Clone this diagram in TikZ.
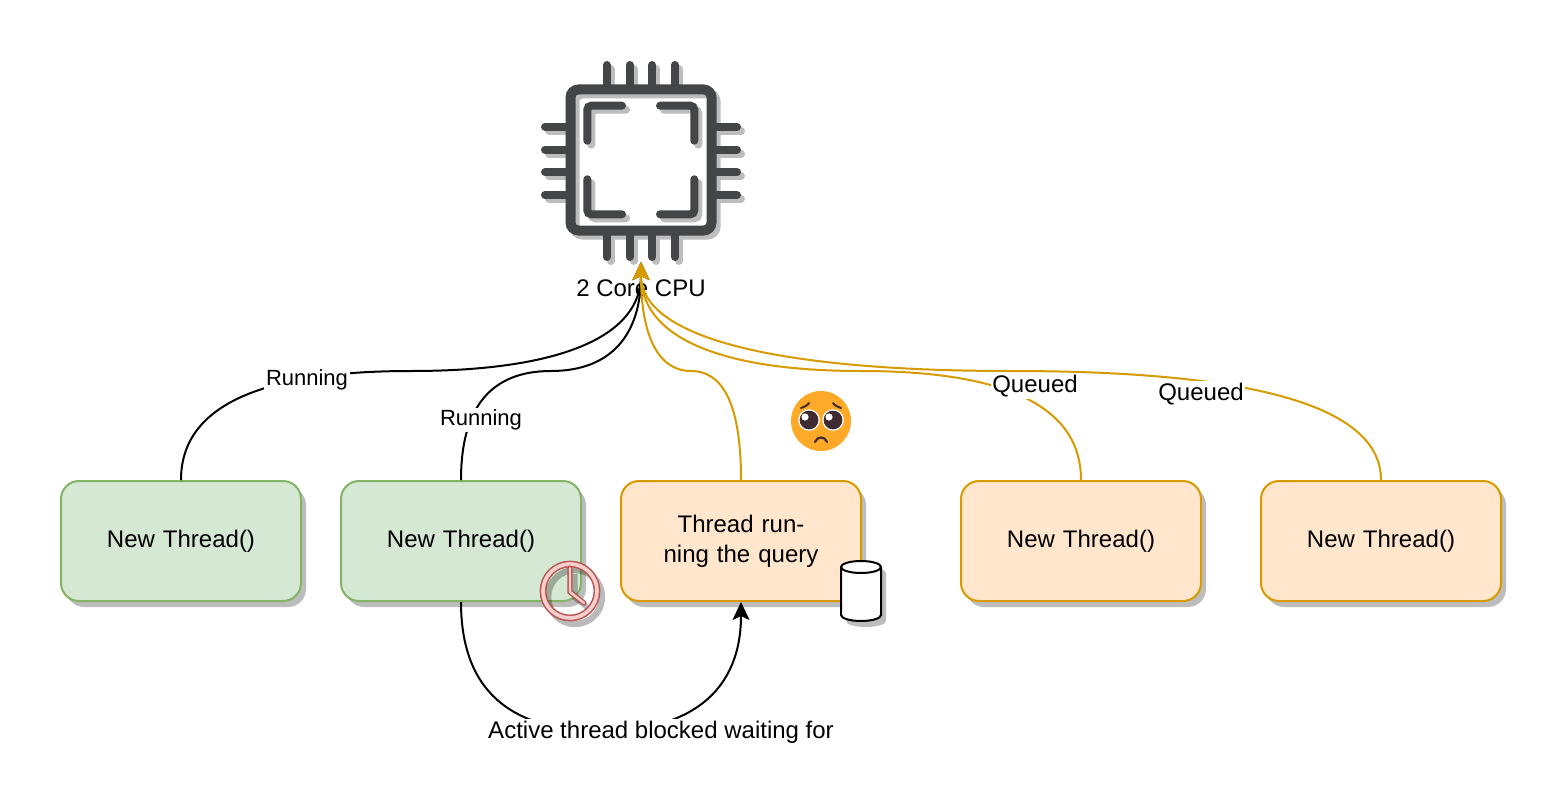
\documentclass[tikz,border=0pt]{standalone}
\usepackage{fontspec}
\setmainfont{Liberation Sans}
\usetikzlibrary{arrows.meta,calc,shadows}
\definecolor{cpudark}{HTML}{444546}
\definecolor{shadowgray}{HTML}{BDBDBD}
\definecolor{greenfill}{HTML}{D5E8D4}
\definecolor{greenline}{HTML}{82B366}
\definecolor{orangefill}{HTML}{FFE6CC}
\definecolor{orangeline}{HTML}{D79B00}
\definecolor{clockfill}{HTML}{F8CECC}
\definecolor{clockline}{HTML}{B85450}
\definecolor{facefill}{HTML}{FFA928}
\definecolor{facedark}{HTML}{402A32}
\tikzset{
  boxshadow/.style={general shadow={shadow xshift=2.5pt,shadow yshift=-3pt,fill=shadowgray}},
  threadbox/.style={draw,line width=1pt,rounded corners=9pt,minimum width=120pt,minimum height=60pt,
    text width=112pt,align=center,font=\fontsize{12}{15}\selectfont,boxshadow},
  runbox/.style={threadbox,draw=greenline,fill=greenfill},
  waitbox/.style={threadbox,draw=orangeline,fill=orangefill},
  edgelabel/.style={fill=white,inner sep=0.8pt,font=\fontsize{12}{14}\selectfont},
  edgeblack/.style={line width=1pt,-{Stealth[length=9pt,width=8.5pt,inset=2pt]}},
  edgeorange/.style={edgeblack,draw=orangeline},
  cpustroke/.style={line width=4pt,line cap=round,rounded corners=2pt}
}
\newcommand{\qedge}[4]{
  \draw[#1] (#2) .. controls ($(#2)!.667!(#2 |- #3)$) and ($(#3)!.667!(#2 |- #3)$) .. (#3)
    .. controls ($(#3)!.667!(#4 |- #3)$) and ($(#4)!.667!(#4 |- #3)$) .. (#4);
}
\begin{document}
\begin{tikzpicture}[x=0.5pt,y=-0.5pt]
  \useasboundingbox[fill=white] (0,0) rectangle (1568,808);

  \foreach \col/\off in {shadowgray/4,cpudark/0} {
    \begin{scope}[shift={(\off,\off)},draw=\col]
      \draw[draw=\col,line width=5pt,rounded corners=4pt] (570.5,89.5) rectangle (711.5,230.5);
      \foreach \p in {606.7,629.5,652.3,675} {
        \draw[draw=\col,cpustroke] (\p,65) -- (\p,85);
        \draw[draw=\col,cpustroke] (\p,235) -- (\p,257);
      }
      \foreach \p in {126.7,149.5,172.3,195} {
        \draw[draw=\col,cpustroke] (545,\p) -- (566,\p);
        \draw[draw=\col,cpustroke] (716,\p) -- (737,\p);
      }
      \draw[draw=\col,cpustroke] (622,105.7) -- (587.3,105.7) -- (587.3,140.7);
      \draw[draw=\col,cpustroke] (660,105.7) -- (694.3,105.7) -- (694.3,140.7);
      \draw[draw=\col,cpustroke] (622,214.3) -- (587.3,214.3) -- (587.3,179.3);
      \draw[draw=\col,cpustroke] (660,214.3) -- (694.3,214.3) -- (694.3,179.3);
    \end{scope}
  }

  \node[font=\fontsize{12}{14}\selectfont] (cpulabel) at (641,288) {2 Core CPU};
  \coordinate (cpu) at (641,262);

  \node[runbox] (t1) at (181,541) {New Thread()};
  \node[runbox] (t2) at (461,541) {New Thread()};
  \node[waitbox] (t3) at (741,541) {Thread running the query};
  \node[waitbox] (t4) at (1081,541) {New Thread()};
  \node[waitbox] (t5) at (1381,541) {New Thread()};

  \coordinate (m1) at (411,371);
  \coordinate (m2) at (551,371);
  \coordinate (m3) at (691,371);
  \coordinate (m4) at (861,371);
  \coordinate (m5) at (1011,371);
  \coordinate (m6) at (601,731);

  \qedge{edgeblack}{t1.north}{m1}{cpu}
  \qedge{edgeblack}{t2.north}{m2}{cpu}
  \qedge{edgeorange}{t3.north}{m3}{cpu}
  \qedge{edgeorange}{t4.north}{m4}{cpu}
  \qedge{edgeorange}{t5.north}{m5}{cpu}
  \qedge{edgeblack}{t2.south}{m6}{t3.south}

  \node[edgelabel,font=\fontsize{11}{13}\selectfont] (run1) at (307,380) {Running};
  \node[edgelabel,font=\fontsize{11}{13}\selectfont] (run2) at (481,420) {Running};
  \node[edgelabel] (queue1) at (1035,386) {Queued};
  \node[edgelabel] (queue2) at (1201,394) {Queued};
  \node[edgelabel] (blocked) at (661,732) {Active thread blocked waiting for};

  \begin{scope}[shift={(5,6)},draw=black,opacity=.27]
    \draw[line width=3.2pt] (570,591) circle (13.5pt);
    \draw[line width=2.6pt] (570,568) -- (570,592) -- (584,603);
  \end{scope}
  \draw[clockline,line width=3.4pt] (570,591) circle (13.5pt);
  \draw[clockfill,line width=1.9pt] (570,591) circle (13.5pt);
  \draw[clockline,line width=2.6pt,line cap=round] (570,568) -- (570,592) -- (584,603);
  \draw[clockfill,line width=1.2pt,line cap=round] (570,568) -- (570,592) -- (584,603);

  \fill[shadowgray] (846,573) -- (846,621) arc[start angle=180,end angle=360,x radius=10pt,y radius=3pt]
    -- (886,573) arc[start angle=0,end angle=180,x radius=10pt,y radius=3pt] -- cycle;
  \draw[line width=1pt,fill=white] (841,567) -- (841,615) arc[start angle=180,end angle=360,x radius=10pt,y radius=3pt]
    -- (881,567) arc[start angle=0,end angle=180,x radius=10pt,y radius=3pt] -- cycle;
  \draw[line width=1pt] (841,567) arc[start angle=180,end angle=360,x radius=10pt,y radius=3pt];

  \fill[facefill] (821,421) circle (15pt);
  \fill[white] (809,420) circle (5.4pt) (833,420) circle (5.4pt);
  \fill[facedark] (809,420) circle (4.7pt) (833,420) circle (4.7pt);
  \fill[white] (805,417) circle (1.8pt) (829,417) circle (1.8pt);
  \draw[facedark,line width=1pt,line cap=round] (801,408) .. controls (804,407) and (808,405) .. (809,403);
  \draw[facedark,line width=1pt,line cap=round] (841,408) .. controls (838,407) and (834,405) .. (833,403);
  \draw[facedark,line width=1.1pt,line cap=round] (815,442) .. controls (817,436) and (825,436) .. (827,442);
\end{tikzpicture}
\end{document}
